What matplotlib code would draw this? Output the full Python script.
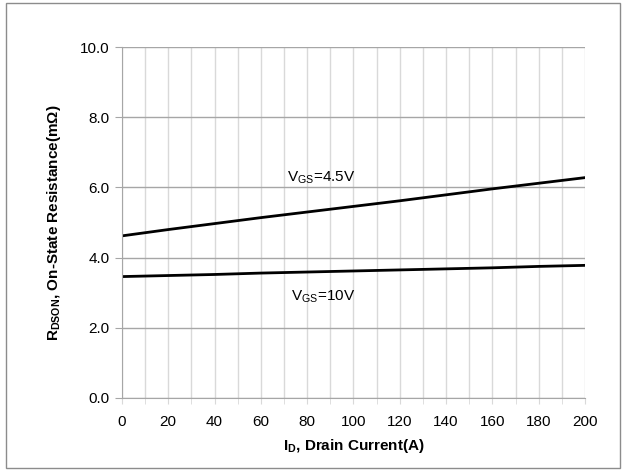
import matplotlib.pyplot as plt
from matplotlib.patches import Rectangle

# -----------------------------
# Data
# -----------------------------
drain_current = [0, 20, 40, 60, 80, 100, 120, 140, 160, 180, 200]
rds_vgs45 = [4.62, 4.80, 4.97, 5.14, 5.30, 5.46, 5.62, 5.79, 5.96, 6.12, 6.28]
rds_vgs10 = [3.46, 3.49, 3.52, 3.56, 3.59, 3.62, 3.65, 3.68, 3.71, 3.75, 3.78]

x_ticks = list(range(0, 201, 20))
y_ticks = [0.0, 2.0, 4.0, 6.0, 8.0, 10.0]

plt.rcParams["font.family"] = ["Liberation Sans", "DejaVu Sans"]

# -----------------------------
# Figure
# -----------------------------
fig = plt.figure(figsize=(6.22, 4.71), dpi=100)
ax = fig.add_axes([0.196, 0.155, 0.7445, 0.745])

fig.patches.append(Rectangle((0.009, 0.006), 0.988, 0.988, transform=fig.transFigure,
                             fill=False, edgecolor="#8c8c8c", linewidth=1.0))

ax.plot(drain_current, rds_vgs45, color="black", linewidth=2.0)
ax.plot(drain_current, rds_vgs10, color="black", linewidth=2.0)

ax.set_xlim(0, 200)
ax.set_ylim(0, 10)
ax.set_xticks(x_ticks)
ax.set_xticks(range(0, 201, 10), minor=True)
ax.set_yticks(y_ticks)
ax.set_yticklabels([f"{v:.1f}" for v in y_ticks])

ax.grid(which="both", axis="x", color="#d9d9d9", linewidth=1.0)
ax.grid(which="major", axis="y", color="#a6a6a6", linewidth=1.0)
ax.set_axisbelow(True)

for side in ["top", "right"]:
    ax.spines[side].set_visible(False)
for side in ["left", "bottom"]:
    ax.spines[side].set_color("#a6a6a6")

ax.tick_params(axis="y", length=5, color="#a6a6a6", labelsize=11, pad=4)
ax.tick_params(axis="x", which="both", length=4, color="#d9d9d9", labelsize=11, pad=8)

# Curve labels
ax.text(86, 6.27, r"V$_{\mathregular{GS}}$=4.5V", ha="center", va="center", fontsize=11)
ax.text(87, 2.88, r"V$_{\mathregular{GS}}$=10V", ha="center", va="center", fontsize=11)

ax.set_xlabel(r"I$_{\mathregular{D}}$, Drain Current(A)", fontsize=11, fontweight="bold", labelpad=6)
ax.set_ylabel(r"R$_{\mathregular{DSON}}$, On-State Resistance(m$\mathregular{\Omega}$)",
              fontsize=11, fontweight="bold", labelpad=12)

plt.savefig("out.png", dpi=100)
plt.close()
